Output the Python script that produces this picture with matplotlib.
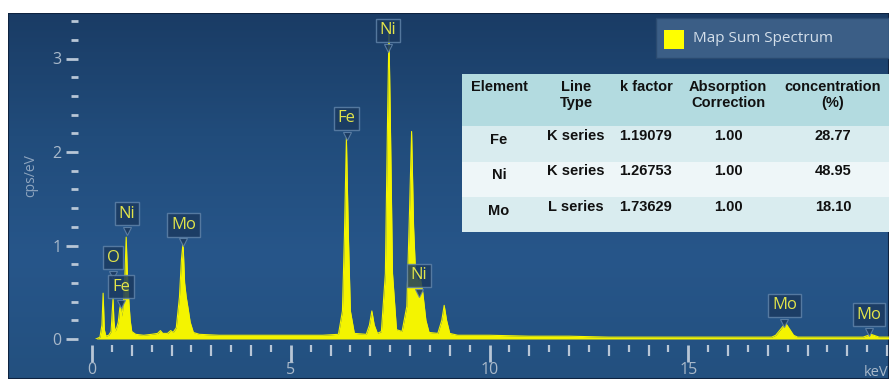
import matplotlib.pyplot as plt
import numpy as np
from matplotlib.colors import LinearSegmentedColormap
from matplotlib.ticker import MultipleLocator, FixedLocator
from matplotlib.patches import Rectangle

# spectrum outline (keV, cps/eV)
energy_kev = [0.10, 0.20, 0.25, 0.28, 0.31, 0.35, 0.42, 0.48, 0.51, 0.53, 0.55, 0.58,
              0.62, 0.66, 0.70, 0.72, 0.74, 0.77, 0.80, 0.83, 0.86, 0.89, 0.92, 0.96,
              1.00, 1.10, 1.30, 1.50, 1.65, 1.72, 1.78, 1.90, 1.98, 2.04, 2.12, 2.20,
              2.25, 2.29, 2.33, 2.37, 2.42, 2.47, 2.55, 2.70, 3.20, 4.00, 5.00, 5.80,
              6.20, 6.30, 6.35, 6.40, 6.45, 6.50, 6.60, 6.90, 6.98, 7.04, 7.10, 7.18,
              7.28, 7.38, 7.43, 7.47, 7.51, 7.56, 7.66, 7.80, 7.92, 7.99, 8.04, 8.09,
              8.14, 8.20, 8.26, 8.32, 8.40, 8.48, 8.70, 8.80, 8.86, 8.92, 9.00, 9.20,
              10.0, 11.0, 12.0, 13.0, 16.0, 17.10, 17.20, 17.45, 17.65, 17.75, 19.40,
              19.50, 19.60, 19.70, 19.80, 20.05]
cps = [0.00, 0.02, 0.15, 0.49, 0.10, 0.03, 0.04, 0.08, 0.30, 0.44, 0.20, 0.08,
       0.12, 0.18, 0.33, 0.36, 0.24, 0.30, 0.45, 0.70, 1.09, 0.70, 0.45, 0.20,
       0.08, 0.05, 0.04, 0.05, 0.06, 0.09, 0.06, 0.06, 0.09, 0.07, 0.12, 0.45,
       0.85, 1.03, 0.60, 0.45, 0.32, 0.18, 0.07, 0.05, 0.04, 0.04, 0.04, 0.04,
       0.05, 0.30, 1.10, 2.15, 1.10, 0.30, 0.06, 0.05, 0.15, 0.30, 0.15, 0.06,
       0.08, 0.70, 2.20, 3.30, 2.20, 0.70, 0.10, 0.08, 0.35, 1.40, 2.22, 1.20,
       0.70, 0.62, 0.65, 0.50, 0.20, 0.07, 0.06, 0.20, 0.36, 0.20, 0.06, 0.04,
       0.04, 0.03, 0.03, 0.02, 0.02, 0.02, 0.04, 0.17, 0.04, 0.02, 0.02,
       0.035, 0.05, 0.035, 0.02, 0.02]

peak_names = ['O', 'Fe', 'Ni', 'Mo', 'Fe', 'Ni', 'Ni', 'Mo', 'Mo']
peak_kev = [0.53, 0.73, 0.87, 2.30, 6.41, 7.45, 8.22, 17.42, 19.55]
# vertical placement of the label boxes (cps/eV)
label_y = [0.87, 0.56, 1.34, 1.22, 2.36, 3.30, 0.68, 0.36, 0.26]

headers = ['Element', 'Line\nType', 'k factor', 'Absorption\nCorrection', 'concentration\n(%)']
elements = ['Fe', 'Ni', 'Mo']
line_types = ['K series', 'K series', 'L series']
k_factors = ['1.19079', '1.26753', '1.73629']
absorption = ['1.00', '1.00', '1.00']
concentration = ['28.77', '48.95', '18.10']

W, H = 889, 379
YELLOW = '#f4f400'
TICK = '#b8c6d6'

fig = plt.figure(figsize=(W / 100, H / 100), dpi=100)
fig.patch.set_facecolor('white')

# dark blue panel
bg = fig.add_axes([8 / W, 0, (W - 8) / W, 366 / H])
cmap = LinearSegmentedColormap.from_list('panel', ['#23507f', '#27568a', '#214c7b', '#1a3c65'])
grad = np.linspace(0, 1, 200).reshape(-1, 1)
bg.imshow(grad, aspect='auto', cmap=cmap, origin='lower', extent=[0, 1, 0, 1],
          interpolation='bilinear')
bg.set_axis_off()
bg.add_patch(Rectangle((0, 0), 1, 1, transform=bg.transAxes, fill=False,
                       ec='#0e2340', lw=1.5))

ax = fig.add_axes([92 / W, 40 / H, (W - 92) / W, 326 / H])
ax.patch.set_alpha(0)
ax.set_xlim(0, (W - 92) / 39.75)
ax.set_ylim(0, 326 / 93.5)

ax.fill_between(energy_kev, cps, 0, color=YELLOW, lw=0)
ax.plot(energy_kev, cps, color=YELLOW, lw=0.8)

for s in ax.spines.values():
    s.set_visible(False)
ax.spines['bottom'].set_position(('outward', 4))
ax.spines['left'].set_position(('outward', 10))

ax.xaxis.set_major_locator(FixedLocator([0, 5, 10, 15]))
ax.xaxis.set_minor_locator(MultipleLocator(0.5))
ax.yaxis.set_major_locator(FixedLocator([0, 1, 2, 3]))
ax.yaxis.set_minor_locator(MultipleLocator(0.2))
ax.tick_params(axis='x', which='major', length=12, width=2, color=TICK,
               labelcolor='#a9b9ca', labelsize=11.5, pad=0.5)
ax.tick_params(axis='x', which='minor', length=5, width=1.6, color=TICK)
ax.tick_params(axis='y', which='major', length=9, width=2, color=TICK,
               labelcolor='#a9b9ca', labelsize=11.5, pad=3)
ax.tick_params(axis='y', which='minor', length=5, width=2, color=TICK)
for loc, t in zip(ax.xaxis.get_minorticklocs(), ax.xaxis.get_minor_ticks()):
    if abs(loc - round(loc)) < 1e-6:
        t.tick1line.set_markersize(8)
for lab in ax.get_xticklabels() + ax.get_yticklabels():
    lab.set_family('Open Sans')

ax.set_ylabel('cps/eV', color='#8ea5bf', fontsize=10, family='Open Sans', labelpad=10)
ax.text(19.42, -0.36, 'keV', color='#a9b9ca', fontsize=10.5, family='Open Sans',
        ha='left', va='center', clip_on=False)

# element labels
for name, x, y in zip(peak_names, peak_kev, label_y):
    ax.plot(x, y - 0.185, marker='v', ms=6, mfc='#1b3a60', mec='#5f82a8', mew=0.8,
            alpha=0.9, zorder=4)
    ax.text(x, y, name, ha='center', va='center', color='#e2e44a', fontsize=12,
            family='Open Sans', zorder=5,
            bbox=dict(boxstyle='square,pad=0.22', fc='#1b3a60', ec='#5f82a8',
                      lw=1, alpha=0.85))

# legend box
fig.patches.append(Rectangle((656 / W, (H - 58) / H), (W - 656) / W, 40 / H,
                             transform=fig.transFigure, fc='#3b5e86', ec='#2a4a70', lw=1))
fig.patches.append(Rectangle((664 / W, (H - 49) / H), 20 / W, 19 / H,
                             transform=fig.transFigure, fc='#ffff00', ec='none'))
fig.text(693 / W, (H - 38) / H, 'Map Sum Spectrum', color='#d4dfea', fontsize=11,
         family='Open Sans', va='center', ha='left')

# composition table
tax = fig.add_axes([462 / W, (H - 232) / H, (W - 462) / W, 158 / H])
tax.set_xlim(462, W)
tax.set_ylim(232, 74)
tax.set_axis_off()
bands = [(74, 126, '#b3dbe0'), (126, 162, '#d9ecef'), (162, 197, '#eef6f8'),
         (197, 232, '#d9ecef')]
for y0, y1, c in bands:
    tax.axhspan(y0, y1, color=c, lw=0)
col_x = [499, 576, 646, 728, 833]
font = dict(family='Liberation Sans', fontweight='bold', fontsize=10.5, color='#111111')
for cx, h in zip(col_x, headers):
    tax.text(cx, 80, h, ha='center', va='top', linespacing=1.15, **font)
row_y = [136, 171, 207]
for i, ry in enumerate(row_y):
    tax.text(col_x[0], ry + 4, elements[i], ha='center', va='center', **font)
    for cx, vals in zip(col_x[1:], [line_types, k_factors, absorption, concentration]):
        tax.text(cx, ry, vals[i], ha='center', va='center', **font)

fig.savefig('out.png', dpi=100, facecolor=fig.get_facecolor())
